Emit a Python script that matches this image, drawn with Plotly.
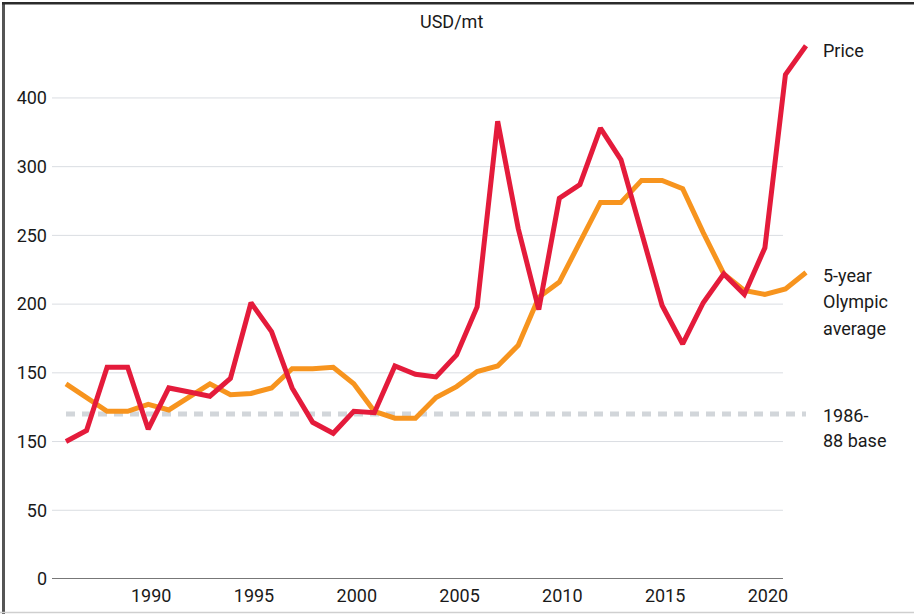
import plotly.graph_objects as go

years = list(range(1986, 2023))

price = [100, 108, 154, 154, 109, 139, 136, 133, 146, 201, 180, 139, 114, 106, 122, 121,
         155, 149, 147, 163, 198, 333, 255, 196, 277, 287, 328, 305, 252, 199, 171, 201,
         222, 207, 241, 367, 388]

olympic_avg = [142, 132, 122, 122, 127, 123, 133, 142, 134, 135, 139, 153, 153, 154, 142, 122,
               117, 117, 132, 140, 151, 155, 170, 205, 216, 245, 274, 274, 290, 290, 284, 252,
               222, 210, 207, 211, 223]

base_value = 120
base_years = [1986, 2022]

y_tickvals = [0, 50, 100, 150, 200, 250, 300, 350]
y_ticktext = ["0", "50", "150", "150", "200", "250", "300", "400"]
x_tickvals = [1990, 1995, 2000, 2005, 2010, 2015, 2020]

FONT = "Liberation Sans Narrow, Roboto, Arial, sans-serif"
RED = "#e41b3b"
ORANGE = "#f7941e"

# plot area in pixels
L, R, T, B = 52, 812, 30, 579
W, H = 914, 614


def pxx(x):
    return (x - L) / (R - L)


def pxy(y):
    return (B - y) / (B - T)


fig = go.Figure()

fig.add_trace(go.Scatter(x=base_years, y=[base_value] * 2, mode="lines",
                         line=dict(color="#d2d6da", width=5, dash="9px,7px"),
                         hoverinfo="skip"))
fig.add_trace(go.Scatter(x=years, y=olympic_avg, mode="lines", name="5-year Olympic average",
                         line=dict(color=ORANGE, width=5)))
fig.add_trace(go.Scatter(x=years, y=price, mode="lines", name="Price",
                         line=dict(color=RED, width=5)))

xmin = 1986 - (66 - L) / 20.556
xmax = 2022 + (R - 806) / 20.556
grid_end = 1986 + (783 - 66) / 20.556

# gridlines stop short of the plot edge
for v in y_tickvals:
    fig.add_shape(type="line", xref="x", yref="y", x0=xmin, x1=grid_end, y0=v, y1=v,
                  line=dict(color="#777777" if v == 0 else "#dadde2", width=2 if v == 0 else 1),
                  layer="below")

# frame
fig.add_shape(type="rect", xref="paper", yref="paper", x0=pxx(2), x1=pxx(5),
              y0=pxy(2), y1=pxy(W), fillcolor="#555555", line_width=0)
fig.add_shape(type="rect", xref="paper", yref="paper", x0=pxx(2), x1=pxx(W),
              y0=pxy(2), y1=pxy(4.5), fillcolor="#2b2b2b", line_width=0)
fig.add_shape(type="line", xref="paper", yref="paper", x0=pxx(0), x1=pxx(W),
              y0=pxy(612.5), y1=pxy(612.5), line=dict(color="#cfcfcf", width=1.5))

txt = dict(family=FONT, size=18, color="#1a1a1a")
fig.add_annotation(text="USD/mt", xref="paper", yref="paper", x=pxx(451), y=pxy(22),
                   xanchor="center", yanchor="middle", showarrow=False, font=txt)

labels = [("Price", 50), ("5-year", 275), ("Olympic", 301), ("average", 328),
          ("1986-", 415), ("88 base", 441)]
for t, ypix in labels:
    fig.add_annotation(text=t, xref="paper", yref="paper", x=pxx(821), y=pxy(ypix),
                       xanchor="left", yanchor="middle", showarrow=False, font=txt)

fig.update_xaxes(range=[xmin, xmax], tickvals=x_tickvals, showgrid=False, zeroline=False,
                 showline=False, ticks="", tickfont=txt, ticklabelstandoff=4,
                 ticklabelshift=3, automargin=False)
fig.update_yaxes(range=[0, (B - T) / 1.37446], tickvals=y_tickvals, ticktext=y_ticktext,
                 showgrid=False, zeroline=False, showline=False, ticks="", tickfont=txt,
                 ticklabelstandoff=4, automargin=False)

fig.update_layout(width=W, height=H, margin=dict(l=L, r=W - R, t=T, b=H - B),
                  plot_bgcolor="white", paper_bgcolor="white", showlegend=False,
                  font=dict(family=FONT))

# drop the page's default body margin so the figure sits at the window corner
fig.write_html("out.html", config={"displayModeBar": False},
               post_script="document.body.style.margin='0';")
